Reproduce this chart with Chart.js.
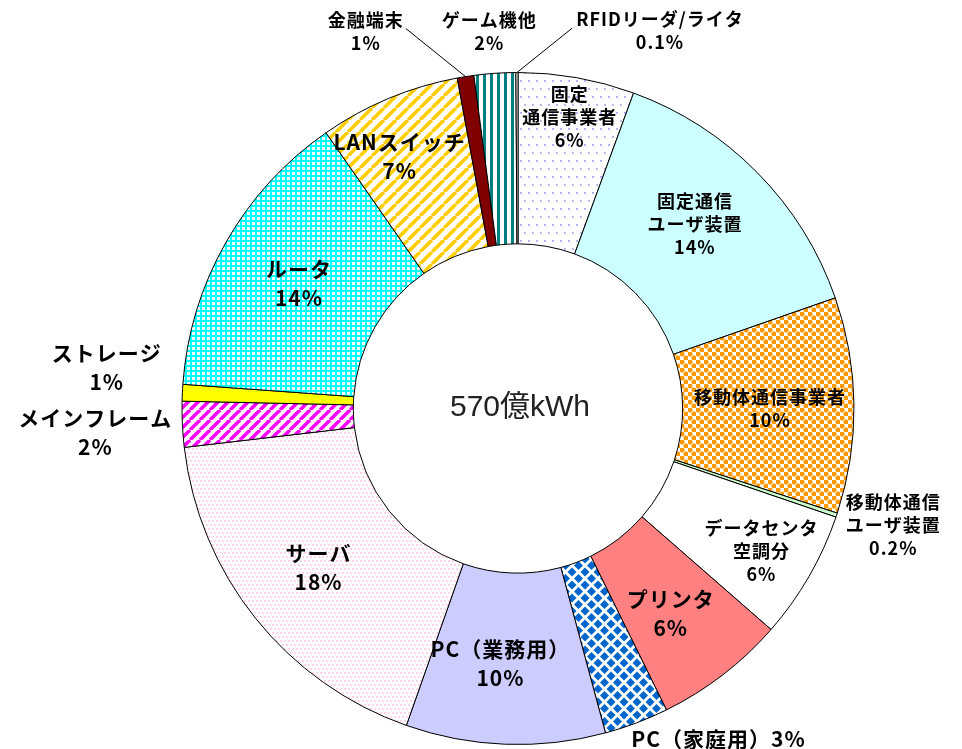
<!DOCTYPE html>
<html lang="ja">
<head>
<meta charset="utf-8">
<title>機器別 電力消費量の内訳</title>
<script src="https://cdn.jsdelivr.net/npm/chart.js@4.4.0/dist/chart.umd.min.js"></script>
<style>
  html, body { margin: 0; padding: 0; background: #fff; }
  #wrap { width: 962px; height: 749px; }
</style>
</head>
<body>
<div id="wrap"><canvas id="powerChart" width="962" height="749"></canvas></div>
<script>
// 機器別の電力消費量の内訳（合計 570億kWh）
const categories = [
  '固定\n通信事業者', '固定通信\nユーザ装置', '移動体通信事業者', '移動体通信\nユーザ装置',
  'データセンタ\n空調分', 'プリンタ', 'PC（家庭用）', 'PC（業務用）', 'サーバ',
  'メインフレーム', 'ストレージ', 'ルータ', 'LANスイッチ', '金融端末', 'ゲーム機他',
  'RFIDリーダ/ライタ'
];
// shares (%)
const shares = [5.6, 14.1, 10.4, 0.2, 6.2, 6.3, 3.1, 9.6, 17.8, 2.2, 0.8, 14.2, 6.8, 0.8, 2.0, 0.1];
// percentages as printed on the chart
const pctLabels = ['6%', '14%', '10%', '0.2%', '6%', '6%', '3%', '10%', '18%', '2%', '1%', '14%', '7%', '1%', '2%', '0.1%'];
const totalLabel = '570億kWh';

// label placement: r = radius factor of outer radius, da = degrees from slice middle
const labelLayout = [
  { r: 0.88, da: 0,     big: false },
  { r: 0.76, da: -1.6,  big: false },
  { r: 0.75, da: 0.5,   big: false },
  { r: 1.17, da: -1.2,  big: false },
  { r: 0.84, da: 0.4,   big: false },
  { r: 0.76, da: 0.8,   big: true },
  { r: 1.15, da: -10.6, big: true, inline: true },
  { r: 0.76, da: 1.8,   big: true },
  { r: 0.76, da: 0,     big: true },
  { r: 1.26, da: -0.5,  big: true },
  { r: 1.23, da: 3,     big: true },
  { r: 0.75, da: 0,     big: true },
  { r: 0.83, da: -2.5,  big: true },
  { r: 1.21, da: -13,   big: false, leader: 'right' },
  { r: 1.125, da: -0.4, big: false },
  { r: 1.20, da: 20.8,  big: false, leader: 'left' }
];

const ctx = document.getElementById('powerChart').getContext('2d');

// small helper to build a repeating fill pattern
function makePattern(w, h, draw) {
  const c = document.createElement('canvas');
  c.width = w; c.height = h;
  const g = c.getContext('2d');
  g.fillStyle = '#ffffff';
  g.fillRect(0, 0, w, h);
  draw(g);
  return ctx.createPattern(c, 'repeat');
}

function dotPattern(step, color, rad) {
  return makePattern(step * 2, step * 2, g => {
    g.fillStyle = color;
    [[1, 1], [1 + step, 1], [1 + step / 2, 1 + step], [1 + step * 1.5, 1 + step]].forEach(p => {
      g.beginPath(); g.arc(p[0], p[1], rad, 0, Math.PI * 2); g.fill();
    });
  });
}

function diagStripes(color, period, width) {
  return makePattern(period, period, g => {
    g.strokeStyle = color;
    g.lineWidth = width;
    for (let k = -1; k <= 1; k++) {
      g.beginPath();
      g.moveTo(k * period, period);
      g.lineTo(k * period + period, 0);
      g.stroke();
    }
  });
}

const fills = [
  dotPattern(8, '#a9acee', 1.1),
  '#ccffff',
  makePattern(8, 8, g => {
    g.fillStyle = '#ff9900';
    [[2, 2], [6, 6]].forEach(p => {
      g.beginPath(); g.arc(p[0], p[1], 2.5, 0, Math.PI * 2); g.fill();
    });
  }),
  '#ccffcc',
  '#ffffff',
  '#ff8080',
  makePattern(13, 13, g => {
    g.fillStyle = '#0066cc';
    [[6.5, 6.5], [0, 0], [13, 0], [0, 13], [13, 13]].forEach(p => {
      g.beginPath();
      g.moveTo(p[0], p[1] - 4.5); g.lineTo(p[0] + 4.5, p[1]);
      g.lineTo(p[0], p[1] + 4.5); g.lineTo(p[0] - 4.5, p[1]);
      g.closePath(); g.fill();
    });
  }),
  '#ccccff',
  dotPattern(4, '#ffa0cc', 0.8),
  diagStripes('#ff00ff', 10, 3.5),
  '#ffff00',
  makePattern(5, 5, g => {
    g.fillStyle = '#00ffff';
    g.fillRect(0, 0, 5, 5);
    g.fillStyle = '#ffffff';
    g.fillRect(2, 2, 3, 3);
  }),
  diagStripes('#ffcc00', 12, 3.5),
  '#800000',
  makePattern(7, 7, g => {
    g.fillStyle = '#008080';
    g.fillRect(0, 0, 3, 7);
  }),
  '#ffffff'
];

// draws the slice labels, leader lines and the total in the hole
const labelPlugin = {
  id: 'sliceLabels',
  afterDatasetsDraw(chart) {
    const c = chart.ctx;
    const meta = chart.getDatasetMeta(0);
    const first = meta.data[0];
    const cx = first.x, cy = first.y, R = first.outerRadius;
    c.save();
    c.fillStyle = '#000';
    c.textAlign = 'center';
    c.textBaseline = 'middle';
    meta.data.forEach((arc, i) => {
      const lay = labelLayout[i];
      const mid = (arc.startAngle + arc.endAngle) / 2 + lay.da * Math.PI / 180;
      const x = cx + Math.cos(mid) * R * lay.r;
      const y = cy + Math.sin(mid) * R * lay.r;
      const size = lay.big ? 21 : 18;
      const lh = lay.big ? 29 : 23;
      c.font = 'bold ' + size + 'px "Noto Sans CJK JP", sans-serif';
      c.letterSpacing = '1px';
      const lines = lay.inline
        ? [categories[i] + pctLabels[i]]
        : categories[i].split('\n').concat([pctLabels[i]]);
      const top = y - (lines.length - 1) * lh / 2;
      let widest = 0;
      lines.forEach((t, k) => {
        c.fillText(t, x, top + k * lh);
        widest = Math.max(widest, c.measureText(t).width);
      });
      if (lay.leader) {
        const amid = (arc.startAngle + arc.endAngle) / 2;
        const sx = lay.leader === 'right' ? x + widest / 2 + 2 : x - widest / 2 - 4;
        c.beginPath();
        c.strokeStyle = '#000';
        c.lineWidth = 1;
        c.moveTo(sx, y - 3);
        c.lineTo(cx + Math.cos(amid) * R, cy + Math.sin(amid) * R);
        c.stroke();
      }
    });
    c.letterSpacing = '0px';
    c.font = '30px "Liberation Sans", "Noto Sans CJK JP", sans-serif';
    c.fillStyle = '#222';
    c.fillText(totalLabel, cx + 2, cy - 1);
    c.restore();
  }
};

new Chart(ctx, {
  type: 'doughnut',
  data: {
    labels: categories.map(s => s.replace('\n', '')),
    datasets: [{
      data: shares,
      backgroundColor: fills,
      borderColor: '#000',
      borderWidth: 1
    }]
  },
  options: {
    responsive: false,
    animation: false,
    cutout: '49%',
    layout: { padding: { top: 72, bottom: 4, left: 100, right: 26 } },
    plugins: {
      legend: { display: false },
      tooltip: { enabled: false }
    }
  },
  plugins: [labelPlugin]
});
</script>
</body>
</html>
